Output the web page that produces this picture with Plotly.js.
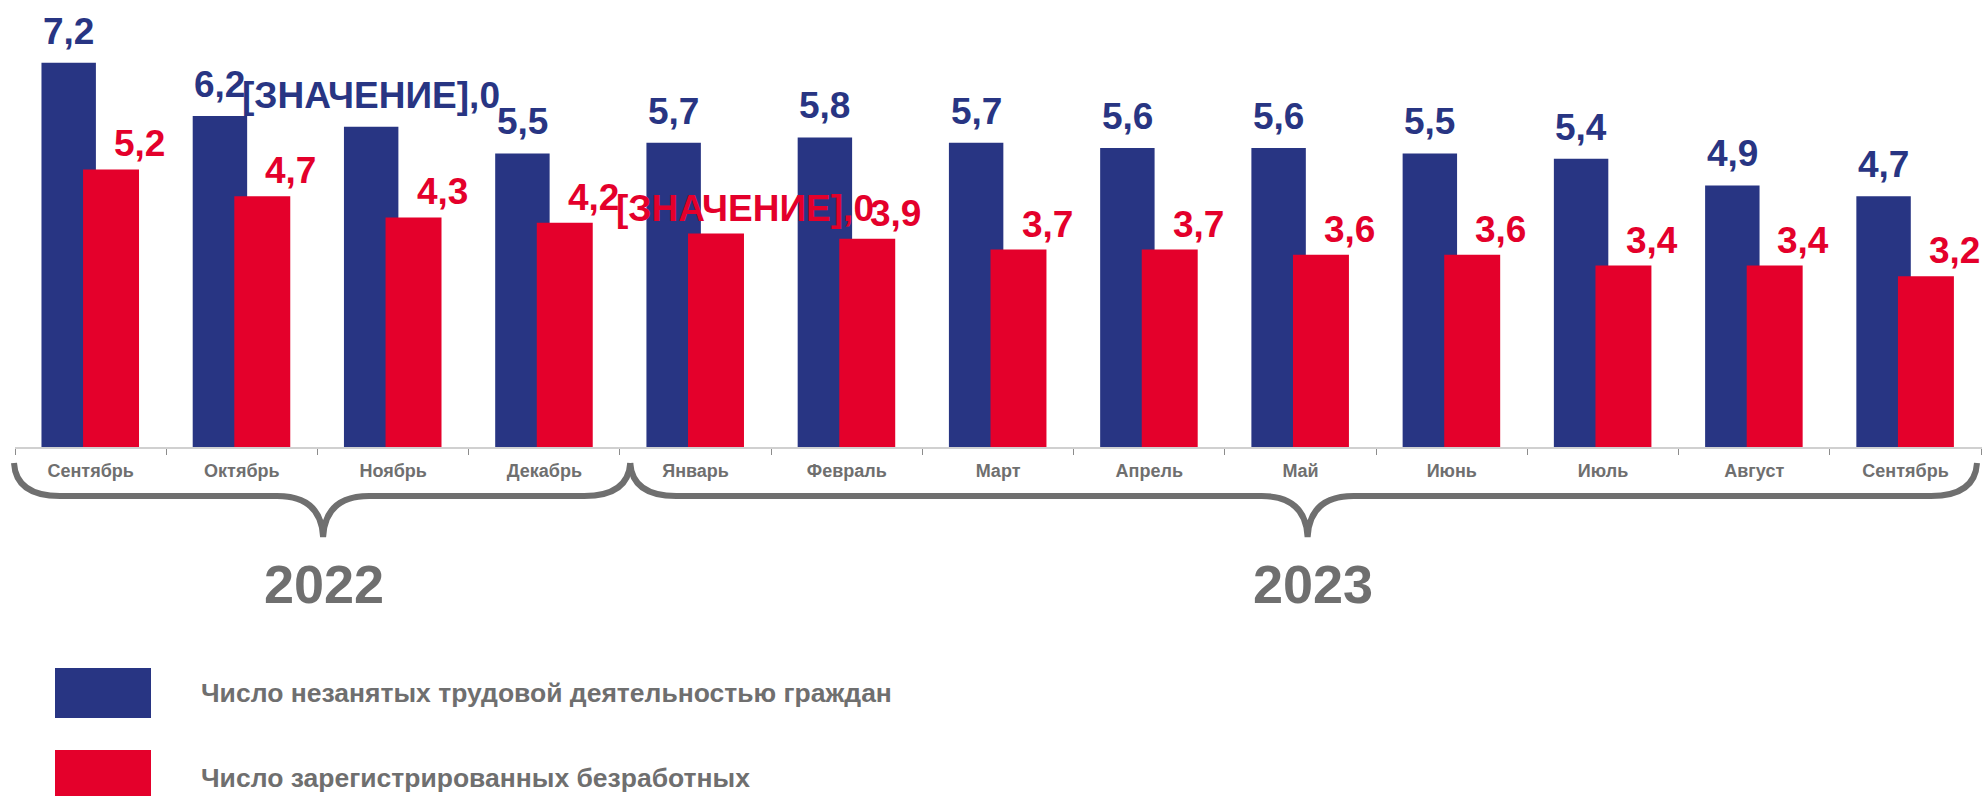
<!DOCTYPE html>
<html>
<head>
<meta charset="utf-8">
<script src="https://cdn.plot.ly/plotly-3.0.1.min.js"></script>
<style>html,body{margin:0;padding:0;background:#fff;}#chart{width:1982px;height:796px;}</style>
</head>
<body>
<div id="chart"></div>
<script>
// ---- data ----
const periods = ["2022-09","2022-10","2022-11","2022-12","2023-01","2023-02","2023-03","2023-04","2023-05","2023-06","2023-07","2023-08","2023-09"];
const months = ["Сентябрь","Октябрь","Ноябрь","Декабрь","Январь","Февраль","Март","Апрель","Май","Июнь","Июль","Август","Сентябрь"];
const unemployed = [7.2,6.2,6.0,5.5,5.7,5.8,5.7,5.6,5.6,5.5,5.4,4.9,4.7];
const registered = [5.2,4.7,4.3,4.2,4.0,3.9,3.7,3.7,3.6,3.6,3.4,3.4,3.2];
const unemployedLabels = ["7,2","6,2","[ЗНАЧЕНИЕ],0","5,5","5,7","5,8","5,7","5,6","5,6","5,5","5,4","4,9","4,7"];
const registeredLabels = ["5,2","4,7","4,3","4,2","[ЗНАЧЕНИЕ],0","3,9","3,7","3,7","3,6","3,6","3,4","3,4","3,2"];
const years = ["2022","2023"];
const yearCounts = [4,9];
const seriesNames = ["Число незанятых трудовой деятельностью граждан","Число зарегистрированных безработных"];

// ---- style ----
const BLUE = "#283583", RED = "#E4002B", GRAY = "#6f6f6f";
const FAM = "'Liberation Sans', Arial, sans-serif";
const W = 1982, H = 796;
const M = {l:15, r:0, t:20, b:349};
const plotW = W - M.l - M.r, plotH = H - M.t - M.b;
const px = x => (x - M.l) / plotW;
const py = y => (H - M.b - y) / plotH;

const traces = [
  {type:"bar", x:periods, y:unemployed, name:seriesNames[0], marker:{color:BLUE}, width:0.36, offset:-0.325, hoverinfo:"none", showlegend:false},
  {type:"bar", x:periods, y:registered, name:seriesNames[1], marker:{color:RED}, width:0.37, offset:-0.05, hoverinfo:"none", showlegend:false}
];

const annotations = [];
periods.forEach((p,i)=>{
  annotations.push({x:p, y:unemployed[i], xref:"x", yref:"y", text:unemployedLabels[i], showarrow:false,
    xshift:-22, yanchor:"bottom", yshift:9, font:{family:FAM, size:37, color:BLUE, weight:"bold"}});
  annotations.push({x:p, y:registered[i], xref:"x", yref:"y", text:registeredLabels[i], showarrow:false,
    xshift:49, yanchor:"bottom", yshift:3, font:{family:FAM, size:37, color:RED, weight:"bold"}});
});

// braces and year labels
const shapes = [];
const n = periods.length;
let start = 0;
const yTop = 463, yMid = 496, yTip = 537, r = 46;
years.forEach((yr,gi)=>{
  const end = start + yearCounts[gi];
  let xa = M.l + plotW*start/n, xb = M.l + plotW*end/n;
  xa = (start === 0) ? xa - 1 : xa + 10;
  xb = (end === n) ? xb - 5 : xb + 10;
  const xm = (xa + xb)/2 + (gi ? 4 : 1);
  const P = (x,y)=> px(x).toFixed(5)+","+py(y).toFixed(5);
  const path = "M"+P(xa,yTop)+" Q"+P(xa+2,yMid)+" "+P(xa+r,yMid)+
               " L"+P(xm-r,yMid)+" Q"+P(xm-2,yMid)+" "+P(xm,yTip)+
               " Q"+P(xm+2,yMid)+" "+P(xm+r,yMid)+
               " L"+P(xb-r,yMid)+" Q"+P(xb-2,yMid)+" "+P(xb,yTop);
  shapes.push({type:"path", xref:"paper", yref:"paper", path:path, line:{color:GRAY, width:6}, fillcolor:"rgba(0,0,0,0)"});
  annotations.push({x:px(xm), y:py(584), xref:"paper", yref:"paper", text:yr, showarrow:false,
    xshift:(gi ? 5 : 1), xanchor:"center", yanchor:"middle", font:{family:FAM, size:54, color:GRAY, weight:"bold"}});
  start = end;
});

// legend
const legColors = [BLUE, RED];
const legTop = [668, 750];
seriesNames.forEach((nm,i)=>{
  shapes.push({type:"rect", xref:"paper", yref:"paper", x0:px(55), x1:px(151), y0:py(legTop[i]), y1:py(legTop[i]+50),
    fillcolor:legColors[i], line:{width:0}});
  annotations.push({x:px(199), y:py(legTop[i]+25+(i?3:0)), xref:"paper", yref:"paper", text:nm, showarrow:false,
    xanchor:"left", yanchor:"middle", font:{family:FAM, size:26.5, color:GRAY, weight:"bold"}});
});

const layout = {
  width:W, height:H,
  margin:M,
  paper_bgcolor:"#fff", plot_bgcolor:"#fff",
  barmode:"overlay",
  showlegend:false,
  xaxis:{type:"category", tickmode:"array", tickvals:periods, ticktext:months, tickson:"boundaries",
    ticks:"outside", ticklen:6, tickcolor:"#8c8c8c", tickwidth:1,
    showline:true, linecolor:"#d0d0d0", linewidth:2, showgrid:false, zeroline:false,
    ticklabelstandoff:6, tickfont:{family:FAM, size:18, color:GRAY, weight:"bold"}, fixedrange:true},
  yaxis:{range:[0,8], visible:false, showgrid:false, zeroline:false, fixedrange:true},
  shapes:shapes,
  annotations:annotations
};

Plotly.newPlot("chart", traces, layout, {displayModeBar:false, staticPlot:true});
</script>
</body>
</html>
